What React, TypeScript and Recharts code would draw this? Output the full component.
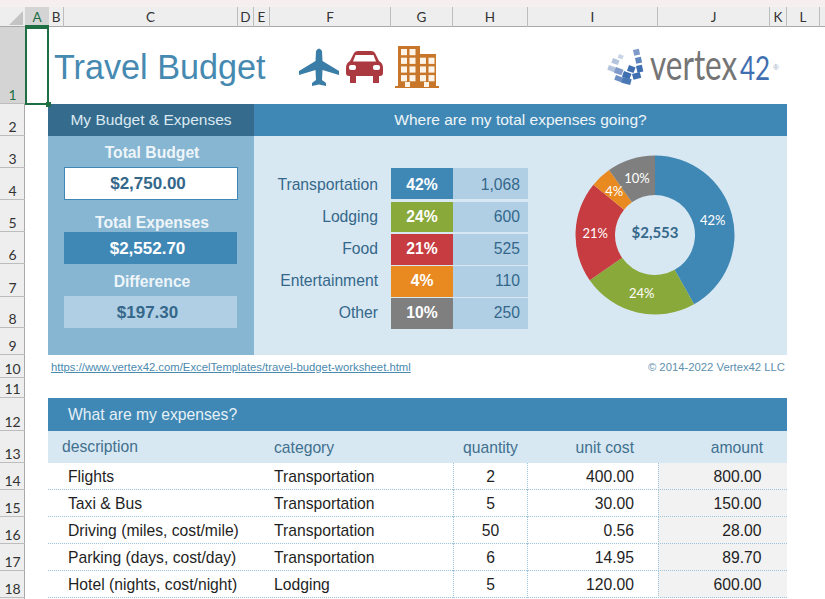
import { PieChart, Pie, Cell, Label } from 'recharts';

// Expense summary, as shown in the legend table and the donut
const summaryCategories = ['Transportation', 'Lodging', 'Food', 'Entertainment', 'Other'];
const summaryValues = [1068, 600, 525, 110, 250];
const summaryPercents = ['42%', '24%', '21%', '4%', '10%'];
const summaryAmounts = ['1,068', '600', '525', '110', '250'];
const summaryColors = ['#3f88b5', '#8aa93b', '#c63c41', '#e98a20', '#7f7f7f'];
const chartTotal = '$2,553';

// Expense table
const itemDescriptions = ['Flights', 'Taxi & Bus', 'Driving (miles, cost/mile)', 'Parking (days, cost/day)', 'Hotel (nights, cost/night)'];
const itemCategories = ['Transportation', 'Transportation', 'Transportation', 'Transportation', 'Lodging'];
const itemQuantities = ['2', '5', '50', '6', '5'];
const itemUnitCosts = ['400.00', '30.00', '0.56', '14.95', '120.00'];
const itemAmounts = ['800.00', '150.00', '28.00', '89.70', '600.00'];

const columnLetters = ['A', 'B', 'C', 'D', 'E', 'F', 'G', 'H', 'I', 'J', 'K', 'L'];
const columnEdges = [25, 49, 64, 238, 254, 270, 391, 453, 528, 658, 770, 787, 820];
const rowEdges = [27, 104, 136, 168, 200, 232, 264, 297, 328, 355, 378, 398, 431, 463, 490, 517, 544, 571, 598];

const ARIAL = '"Liberation Sans", Arial, sans-serif';
const CALIBRI = 'Lato, sans-serif';
const DARK_BLUE = '#356c8e';
const BLUE = '#3f88b5';
const PANEL = '#86b6d2';
const PALE = '#d8e8f2';
const SOFT = '#b1cfe4';
const INK = '#34678a';

type BoxProps = {
  x: number; y: number; w: number; h: number;
  bg?: string; color?: string; size?: number; bold?: boolean;
  align?: 'left' | 'center' | 'right';
  font?: string; border?: string; children?: React.ReactNode;
  style?: React.CSSProperties;
};

// Absolutely placed spreadsheet cell
function Box({ x, y, w, h, bg, color, size = 15.7, bold, align = 'left', font = ARIAL, border, children, style }: BoxProps) {
  return (
    <div
      style={{
        position: 'absolute', left: x, top: y, width: w, height: h, boxSizing: 'border-box',
        background: bg, color, fontSize: size, fontFamily: font, fontWeight: bold ? 700 : 400,
        border, display: 'flex', alignItems: 'center', whiteSpace: 'nowrap',
        justifyContent: align === 'left' ? 'flex-start' : align === 'right' ? 'flex-end' : 'center',
        ...style,
      }}
    >
      {children}
    </div>
  );
}

function SheetChrome() {
  return (
    <>
      <Box x={0} y={0} w={825} h={7} bg="#f5eff0" />
      <Box x={0} y={7} w={825} h={20} bg="#eeeeee" style={{ borderBottom: '1px solid #a9a9a9' }} />
      <svg style={{ position: 'absolute', left: 9, top: 11 }} width={14} height={14}>
        <path d="M14 0 V14 H0 Z" fill="#c4c4c4" />
      </svg>
      <Box x={25} y={7} w={24} h={20} bg="#d4d4d4" style={{ borderBottom: '2px solid #1f6f45' }} />
      {columnLetters.map((letter, i) => (
        <Box
          key={letter}
          x={columnEdges[i]}
          y={7}
          w={columnEdges[i + 1] - columnEdges[i]}
          h={20}
          align="center"
          color={letter === 'A' ? '#1f6f45' : '#333'}
          size={13.5}
          font={CALIBRI}
          style={{ borderRight: letter === 'A' ? undefined : '1px solid #bdbdbd' }}
        >
          {letter}
        </Box>
      ))}
      <Box x={0} y={27} w={25} h={572} bg="#eeeeee" style={{ borderRight: '1px solid #a9a9a9' }} />
      <Box x={0} y={27} w={25} h={77} bg="#d4d4d4" />
      {rowEdges.slice(1).map((bottom, i) => (
        <Box
          key={bottom}
          x={0}
          y={rowEdges[i]}
          w={25}
          h={bottom - rowEdges[i]}
          align="center"
          color={i === 0 ? '#1f6f45' : '#333'}
          size={14}
          font={CALIBRI}
          style={{ alignItems: 'flex-end', borderBottom: '1px solid #bdbdbd', paddingBottom: 0 }}
        >
          {i + 1}
        </Box>
      ))}
      <Box x={25} y={27} w={24} h={78} border="2px solid #1f6f45" style={{ zIndex: 3 }} />
      <Box x={46} y={102} w={5} h={5} bg="#1f6f45" style={{ zIndex: 4 }} />
    </>
  );
}

function TravelIcons() {
  return (
    <>
      <svg style={{ position: 'absolute', left: 298, top: 47 }} width={42} height={40} viewBox="0 0 42 40">
        <path
          fill="#3a7da6"
          d="M18 4 Q21 -1 24 4 L24.5 14 L41 24 L41 28 L24.5 23 L24 33 L28 36 L28 39 L21 37.5 L14 39 L14 36 L18 33 L17.5 23 L1 28 L1 24 L17.5 14 Z"
        />
      </svg>
      <svg style={{ position: 'absolute', left: 345, top: 50 }} width={39} height={34} viewBox="0 0 39 34">
        <path
          fill="#aa3a3f"
          d="M9 3 Q10 1 13 1 H26 Q29 1 30 3 L34 11 Q38 13 38 18 V23 Q38 26 35 26 H4 Q1 26 1 23 V18 Q1 13 5 11 Z"
        />
        <path fill="#fff" d="M10.5 5 H28.5 L31 11.5 H8 Z" />
        <rect x={4} y={15} width={7} height={5} rx={2} fill="#fff" />
        <rect x={28} y={15} width={7} height={5} rx={2} fill="#fff" />
        <rect x={5} y={26} width={6} height={7} fill="#aa3a3f" />
        <rect x={28} y={26} width={6} height={7} fill="#aa3a3f" />
      </svg>
      <svg style={{ position: 'absolute', left: 395, top: 46 }} width={45} height={43} viewBox="0 0 45 43">
        <path fill="#c8772a" d="M3 0 H25 V8 H41 V40 H44 V42 H0 V40 H3 Z" />
        {[0, 1, 2, 3].flatMap((r) =>
          [0, 1, 2, 3].map((c) => {
            if (r === 0 && c > 1) return null;
            return <rect key={`${r}-${c}`} x={6 + c * 8.5 + (c > 1 ? 2 : 0)} y={3 + r * 8.7} width={6} height={6.2} fill="#fdf3e6" />;
          }),
        )}
        <rect x={10} y={36} width={5} height={5} fill="#fdf3e6" />
        <rect x={29} y={36} width={5} height={5} fill="#fdf3e6" />
      </svg>
    </>
  );
}

function VertexLogo() {
  const blocks = [
    [609, 65, 8, 5, '#b4c4dd', 20], [613, 58, 7, 5, '#b4c4dd', 20], [619, 54, 5, 4, '#c9d4e6', 20],
    [616, 67, 8, 6, '#7f9ac8', 20], [624, 71, 8, 6, '#3f6fb0', 20], [616, 75, 8, 5, '#6d8ec2', 20],
    [629, 65, 7, 6, '#3f6fb0', 20], [632, 74, 8, 6, '#3f6fb0', -15], [623, 77, 9, 6, '#4a78b5', 15],
    [633, 50, 6, 6, '#7f9ac8', -12], [635, 58, 6, 6, '#5f86bd', -12], [636, 66, 6, 7, '#3f6fb0', -12],
  ];
  return (
    <svg style={{ position: 'absolute', left: 600, top: 28 }} width={195} height={72} viewBox="600 28 195 72">
      {blocks.map(([x, y, w, h, fill, tilt], i) => (
        <rect key={i} x={x as number} y={y as number} width={w as number} height={h as number} fill={fill as string} transform={`rotate(${tilt} ${x} ${y})`} />
      ))}
      <text transform="translate(650 80) scale(1 1.35)" fontFamily={CALIBRI} fontSize={31.5} fill="#757575">vertex</text>
      <text transform="translate(740 80) scale(1 1.25)" fontFamily={CALIBRI} fontSize={26} fill="#3f6fb0">42</text>
      <text x={773} y={70} fontFamily={ARIAL} fontSize={8} fill="#9aa9c4">®</text>
    </svg>
  );
}

// Percent label placed halfway through the ring
function renderSliceLabel(props: any) {
  const { cx, cy, midAngle, innerRadius, outerRadius, index } = props;
  const radius = (innerRadius + outerRadius) / 2;
  const rad = (Math.PI / 180) * midAngle;
  return (
    <text
      x={cx + radius * Math.cos(rad)}
      y={cy - radius * Math.sin(rad)}
      textAnchor="middle"
      dominantBaseline="central"
      fill="#fff"
      fontFamily={CALIBRI}
      fontSize={13}
    >
      {summaryPercents[index]}
    </text>
  );
}

const donutData = summaryCategories.map((name, i) => ({ name, value: summaryValues[i] }));

function ExpenseDonut() {
  return (
    <div style={{ position: 'absolute', left: 555, top: 135 }}>
      <PieChart width={200} height={200} margin={{ top: 0, right: 0, bottom: 0, left: 0 }}>
        <Pie
          data={donutData}
          dataKey="value"
          cx={100}
          cy={100}
          innerRadius={40}
          outerRadius={79.5}
          startAngle={90}
          endAngle={-270}
          stroke="none"
          label={renderSliceLabel}
          labelLine={false}
          isAnimationActive={false}
        >
          {donutData.map((d, i) => (
            <Cell key={d.name} fill={summaryColors[i]} />
          ))}
          <Label value={chartTotal} position="center" dy={-2} fill={INK} fontFamily={CALIBRI} fontWeight={700} fontSize={15} />
        </Pie>
      </PieChart>
    </div>
  );
}

function BudgetPanel() {
  const moneyPad = { paddingRight: 6 };
  return (
    <>
      <Box x={48} y={104} w={206} h={32} bg={DARK_BLUE} color="#dbe9f2" size={15.5} align="center">My Budget &amp; Expenses</Box>
      <Box x={48} y={136} w={206} h={219} bg={PANEL} />
      <Box x={48} y={137} w={208} h={32} color="#eef5f9" bold align="center">Total Budget</Box>
      <Box x={64} y={167} w={174} h={33} bg="#fff" border={`1px solid ${BLUE}`} color={INK} size={17} bold align="center" style={moneyPad}>$2,750.00</Box>
      <Box x={48} y={207} w={208} h={32} color="#eef5f9" bold align="center">Total Expenses</Box>
      <Box x={64} y={232} w={173} h={32} bg={BLUE} color="#fff" size={17} bold align="center" style={{ ...moneyPad, paddingTop: 1 }}>$2,552.70</Box>
      <Box x={48} y={266} w={208} h={32} color="#eef5f9" bold align="center">Difference</Box>
      <Box x={64} y={296} w={173} h={32} bg={SOFT} color={INK} size={17} bold align="center" style={{ ...moneyPad, paddingTop: 1 }}>$197.30</Box>
    </>
  );
}

function SummaryPanel() {
  const tops = [168, 201.5, 234, 266, 298];
  return (
    <>
      <Box x={254} y={104} w={533} h={32} bg={BLUE} color="#eef5f9" size={15.5} align="center">Where are my total expenses going?</Box>
      <Box x={254} y={136} w={533} h={219} bg={PALE} />
      {summaryCategories.map((name, i) => {
        const nudge = i === 0 ? 3 : 0;
        return (
          <div key={name}>
            <Box x={258} y={tops[i]} w={120} h={30.5} color={INK} align="right" style={{ paddingTop: nudge }}>{name}</Box>
            <Box x={391} y={tops[i]} w={62} h={30.5} bg={summaryColors[i]} color="#fff" bold align="center" style={{ paddingTop: nudge }}>{summaryPercents[i]}</Box>
            <Box x={453} y={tops[i]} w={75} h={30.5} bg={SOFT} color={INK} align="right" style={{ paddingRight: 8, paddingTop: nudge }}>{summaryAmounts[i]}</Box>
          </div>
        );
      })}
      <ExpenseDonut />
    </>
  );
}

function ExpenseTable() {
  const dotted = '1px dotted #9cc2dc';
  return (
    <>
      <Box x={48} y={398} w={739} h={33} bg={BLUE} color="#e6f0f6" style={{ paddingLeft: 20, paddingTop: 1 }}>What are my expenses?</Box>
      <Box x={48} y={431} w={739} h={32} bg={PALE} />
      <Box x={62} y={431} w={190} h={32} color="#41708f">description</Box>
      <Box x={274} y={432} w={170} h={32} color="#41708f">category</Box>
      <Box x={453} y={432} w={75} h={32} color="#41708f" align="center">quantity</Box>
      <Box x={528} y={432} w={106} h={32} color="#41708f" align="right">unit cost</Box>
      <Box x={658} y={432} w={105} h={32} color="#41708f" align="right">amount</Box>
      {itemDescriptions.map((description, i) => {
        const top = rowEdges[i + 13];
        const h = rowEdges[i + 14] - top;
        return (
          <div key={description}>
            <Box x={658} y={top} w={129} h={h} bg="#f2f2f2" />
            <Box x={48} y={top} w={739} h={h} style={{ borderBottom: dotted }} />
            <Box x={68} y={top} w={200} h={h} color="#1f1f1f">{description}</Box>
            <Box x={274} y={top} w={170} h={h} color="#1f1f1f">{itemCategories[i]}</Box>
            <Box x={453} y={top} w={75} h={h} color="#1f1f1f" align="center" style={{ borderLeft: dotted, borderRight: dotted }}>{itemQuantities[i]}</Box>
            <Box x={528} y={top} w={106} h={h} color="#1f1f1f" align="right">{itemUnitCosts[i]}</Box>
            <Box x={658} y={top} w={104} h={h} color="#1f1f1f" align="right" style={{ borderLeft: dotted, marginLeft: -0.5 }}>{itemAmounts[i]}</Box>
          </div>
        );
      })}
    </>
  );
}

export default function App() {
  return (
    <div style={{ position: 'absolute', left: 0, top: 0, width: 825, height: 599, overflow: 'hidden', background: '#fff' }}>
      <SheetChrome />
      <Box x={54} y={44} w={230} h={46} color="#4689b1" size={34.2}>Travel Budget</Box>
      <TravelIcons />
      <VertexLogo />
      <BudgetPanel />
      <SummaryPanel />
      <Box x={51} y={358} w={400} h={18} color="#4a8aaf" size={11.3} style={{ textDecoration: 'underline' }}>
        https://www.vertex42.com/ExcelTemplates/travel-budget-worksheet.html
      </Box>
      <Box x={585} y={358} w={200} h={18} color="#5d8fad" size={11.3} align="right">© 2014-2022 Vertex42 LLC</Box>
      <ExpenseTable />
    </div>
  );
}
